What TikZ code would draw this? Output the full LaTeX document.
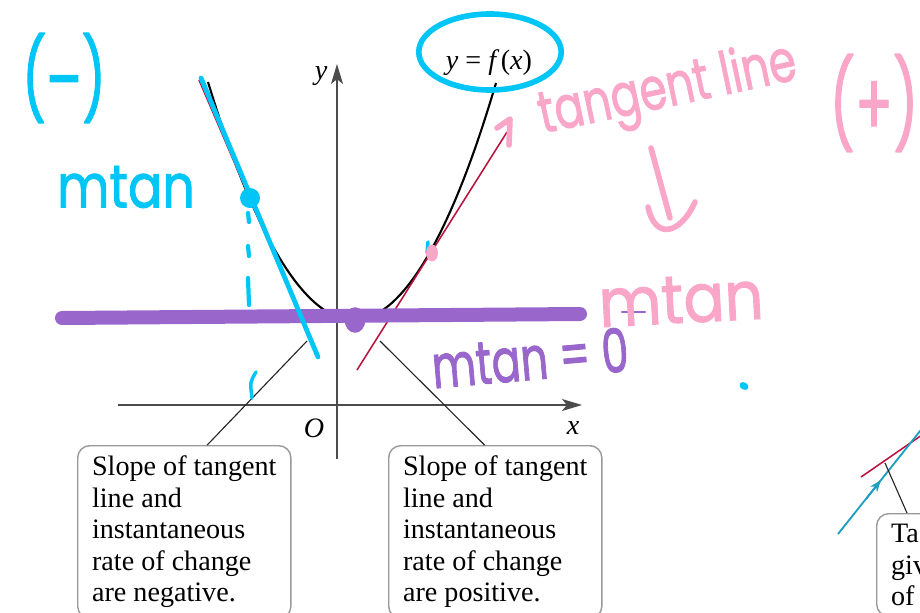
\documentclass[tikz,border=0pt]{standalone}
\usepackage{fontspec}
\setmainfont{Liberation Serif}
\newfontfamily\handfont[FakeBold=1.6]{Poppins}
\usetikzlibrary{calc,arrows.meta}
\definecolor{penblue}{RGB}{0,198,248}
\definecolor{penpink}{RGB}{250,166,201}
\definecolor{penpurple}{RGB}{153,102,204}
\definecolor{tanred}{RGB}{186,18,62}
\definecolor{arcteal}{RGB}{28,158,192}
\tikzset{
  notebox/.style={draw=black!40, line width=1pt, rounded corners=0.3cm, fill=white, anchor=north west, align=left, inner xsep=0.36cm, inner ysep=0.26cm},
  pointer/.style={line width=0.8pt, black!85},
  axis/.style={line width=0.9pt, black!70, -{Stealth[length=0.5cm, width=0.3cm, inset=0.12cm]}},
  ink/.style={line width=#1, line cap=round, line join=round},
  hand/.style={font=\handfont\fontsize{#1}{#1}\selectfont, inner sep=0pt},
}
\begin{document}
\begin{tikzpicture}[x=0.025cm, y=-0.025cm, font=\fontsize{20}{22.4}\selectfont]
  \useasboundingbox (0,0) rectangle (920,612);
  \clip (0,0) rectangle (920,612);
  \draw[axis] (118,405) -- (582,405);
  \draw[axis] (337,459) -- (337,64);
  \node (ylab) at (321,76) {\itshape y};
  \node (xlab) at (573,428) {\itshape x};
  \node (olab) at (314,428) {\itshape O};
  \node (curvelab) at (489,63) {{\itshape y} = {\itshape f}\,({\itshape x})};
  \draw[line width=1.5pt] (208,82) parabola bend (354,320) (496,83);
  \draw[tanred, line width=1.1pt] (199,80) -- (313,346);
  \draw[tanred, line width=1.1pt] (357,370) -- (507,132);
  \coordinate (negtip) at (307,341);
  \coordinate (postip) at (380,341);
  \node[notebox] (negbox) at (77,445) {Slope of tangent\\line and\\instantaneous\\rate of change\\are negative.};
  \node[notebox] (posbox) at (388,445) {Slope of tangent\\line and\\instantaneous\\rate of change\\are positive.};
  \draw[pointer] ($(negbox.north west)!0.607!(negbox.north east)$) -- (negtip);
  \draw[pointer] ($(posbox.north west)!0.45!(posbox.north east)$) -- (postip);
  \draw[tanred, line width=1.1pt] (861,477) -- (935,426);
  \draw[arcteal, line width=1.3pt] (838,534) -- (928,421);
  \draw[arcteal, line width=1.3pt, -{Stealth[length=0.3cm, width=0.22cm]}] (866,499) -- (881,480);
  \coordinate (slopetip) at (885,463);
  \node[notebox, text width=2.5cm] (slopebox) at (876,513) {Ta\\giv\\of};
  \draw[pointer] ($(slopebox.north west)+(31,0)$) -- (slopetip);
  \draw[ink=0.35cm, penpurple] (62,318) -- (580,314);
  \fill[penpurple] (355,320) ellipse [x radius=0.26cm, y radius=0.32cm];
  \node[hand=43, text=penpurple, rotate=5] (zero) at (530,358) {\scalebox{0.71}[1]{mtan = 0}};
  \draw[ink=1.5pt, penpurple] (622,312) -- (645,312);
  \draw[ink=0.12cm, penblue] (201,78) -- (318,357);
  \fill[penblue] (250,198) circle (0.25cm);
  \foreach \a/\b in {213/222, 246/256, 278/305}
    \draw[ink=3pt, penblue] (248,\a) -- (249,\b);
  \draw[ink=2.5pt, penblue] (256,372) .. controls (250,382) .. (252,398);
  \draw[ink=2.5pt, penblue] (428,242) -- (427,253);
  \fill[penblue, rotate around={-30:(744,386)}] (744,386) ellipse [x radius=0.12cm, y radius=0.09cm];
  \fill[penpink] (432,253) ellipse [x radius=0.15cm, y radius=0.21cm];
  \draw[ink=0.14cm, penblue] (490,52) ellipse [x radius=1.78cm, y radius=0.95cm];
  \node[hand=57, text=penblue] (minus) at (64,78) {\scalebox{0.66}[1]{(–)}};
  \node[hand=43, text=penblue] (mtanneg) at (126,187) {\scalebox{0.84}[1]{mtan}};
  \draw[ink=4pt, penpink] (497,128) -- (510,119) -- (509,145);
  \node[hand=42, text=penpink, rotate=12] (tanline) at (668,92) {\scalebox{0.74}[1]{tangent line}};
  \draw[ink=4pt, penpink] (651,148) -- (670,218);
  \draw[ink=4pt, penpink] (648,207) .. controls (655,240) and (680,235) .. (695,202);
  \node[hand=48, text=penpink, rotate=3] (mtanpos) at (681,300) {\scalebox{0.9}[1]{mtan}};
  \node[hand=62, text=penpink] (plus) at (874,103) {\scalebox{0.64}[1]{(+)}};
\end{tikzpicture}
\end{document}
